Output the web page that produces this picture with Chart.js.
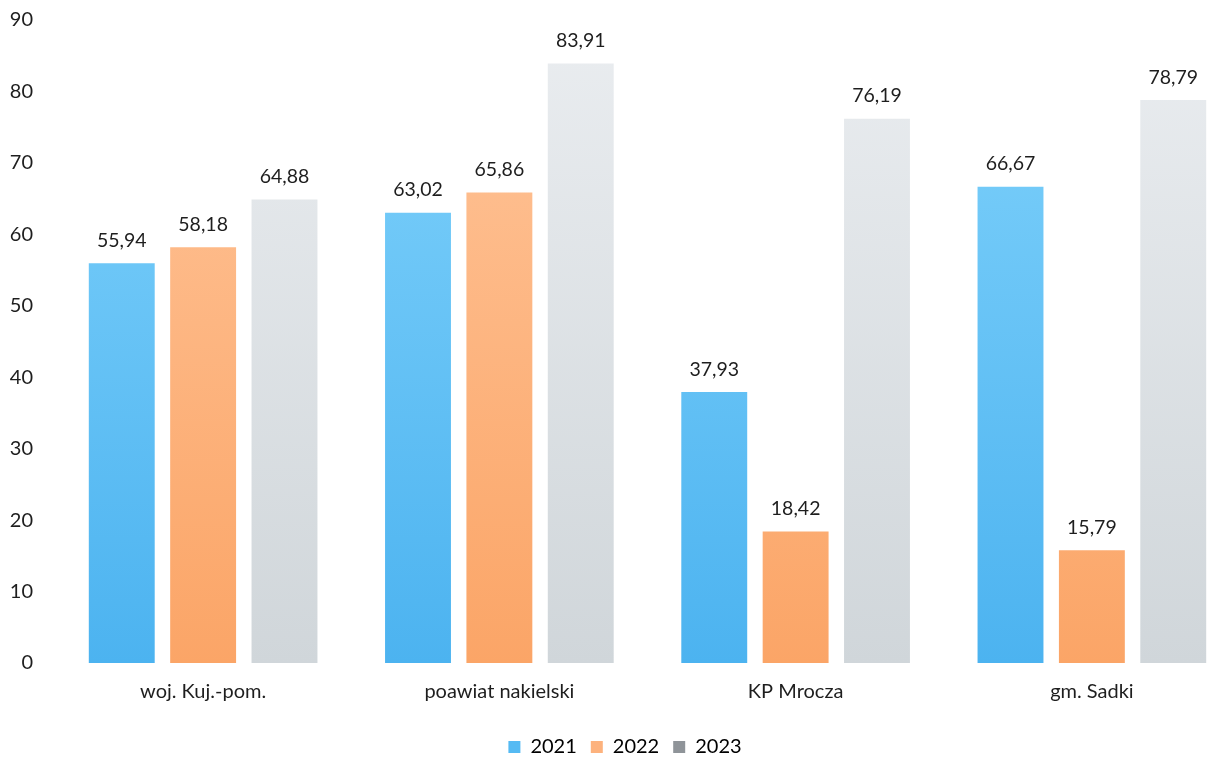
<!DOCTYPE html>
<html>
<head>
<meta charset="utf-8">
<script src="https://cdn.jsdelivr.net/npm/chart.js@4.4.0/dist/chart.umd.min.js"></script>
<style>
  html, body { margin: 0; padding: 0; background: #fff; overflow: hidden; }
  #wrap { position: relative; width: 1240px; height: 757px; }
</style>
</head>
<body>
<div id="wrap"><canvas id="c"></canvas></div>
<script>
const categories = ["woj. Kuj.-pom.", "poawiat nakielski", "KP Mrocza", "gm. Sadki"];
const seriesNames = ["2021", "2022", "2023"];
const values2021 = [55.94, 63.02, 37.93, 66.67];
const values2022 = [58.18, 65.86, 18.42, 15.79];
const values2023 = [64.88, 83.91, 76.19, 78.79];
const yTicks = [0, 10, 20, 30, 40, 50, 60, 70, 80, 90];

const FONT = "Lato, 'Open Sans', sans-serif";

function grad(top, bottom) {
  return (ctx) => {
    const a = ctx.chart.chartArea;
    if (!a) return bottom;
    const g = ctx.chart.ctx.createLinearGradient(0, a.bottom, 0, a.top);
    g.addColorStop(0, bottom);
    g.addColorStop(1, top);
    return g;
  };
}

const legendColors = ["#55baf3", "#fdb27d", "#8f9499"];

const valueLabels = {
  id: 'valueLabels',
  afterDatasetsDraw(chart) {
    const ctx = chart.ctx;
    ctx.save();
    ctx.font = "19.5px " + FONT;
    ctx.fillStyle = "#1e1e1e";
    ctx.textAlign = "center";
    ctx.textBaseline = "bottom";
    chart.data.datasets.forEach((ds, i) => {
      const meta = chart.getDatasetMeta(i);
      meta.data.forEach((bar, j) => {
        const v = ds.data[j];
        ctx.fillText(v.toFixed(2).replace('.', ','), bar.x, bar.y - 13);
      });
    });
    ctx.restore();
  }
};

const legendShift = {
  id: 'legendShift',
  afterLayout(chart) {
    if (chart.legend) {
      chart.legend.top += 10;
      chart.legend.bottom += 10;
    }
  }
};

new Chart(document.getElementById('c'), {
  type: 'bar',
  data: {
    labels: categories,
    datasets: [
      { label: seriesNames[0], data: values2021, backgroundColor: grad("#80d2fb", "#4cb3f0") },
      { label: seriesNames[1], data: values2022, backgroundColor: grad("#ffc59a", "#fba567") },
      { label: seriesNames[2], data: values2023, backgroundColor: grad("#eaedf0", "#d0d6da") }
    ]
  },
  plugins: [valueLabels, legendShift],
  options: {
    responsive: true,
    maintainAspectRatio: false,
    animation: false,
    datasets: { bar: { categoryPercentage: 0.824, barPercentage: 0.81 } },
    layout: { padding: { top: 20, left: 10, right: 0, bottom: 0 } },
    scales: {
      y: {
        min: 0, max: 90,
        afterBuildTicks: (s) => { s.ticks = yTicks.map(v => ({ value: v })); },
        afterFit: (s) => { s.width = 45; s.paddingTop = 0; s.paddingBottom = 0; },
        grid: { display: false, drawTicks: false },
        border: { display: false },
        ticks: { padding: 22, color: "#1e1e1e", font: { family: FONT, size: 20 } }
      },
      x: {
        grid: { display: false, drawTicks: false },
        border: { display: false },
        afterFit: (s) => { s.height = 50; },
        ticks: { padding: 17, color: "#1e1e1e", font: { family: FONT, size: 20 } }
      }
    },
    plugins: {
      tooltip: { enabled: false },
      legend: {
        position: 'bottom',
        labels: {
          boxWidth: 12, boxHeight: 12, padding: 14,
          color: "#1e1e1e",
          font: { family: FONT, size: 20 },
          generateLabels: (chart) => chart.data.datasets.map((ds, i) => ({
            text: ds.label, fillStyle: legendColors[i], strokeStyle: legendColors[i],
            lineWidth: 0, datasetIndex: i, hidden: false
          }))
        }
      }
    }
  }
});
</script>
</body>
</html>
